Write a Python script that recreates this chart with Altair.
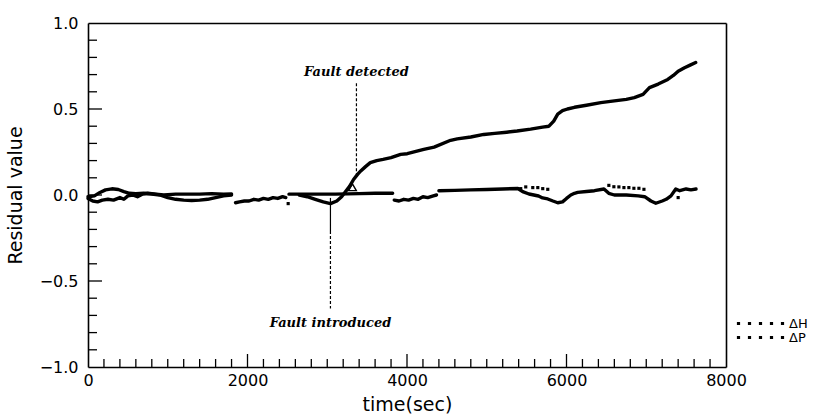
import altair as alt
import pandas as pd

# ---- series data ----
# Delta H : smooth residual, rises after the fault
h1_t = [0, 80, 150, 220, 300, 380, 450, 520, 600, 700, 800, 900, 1000, 1100, 1200, 1300, 1400, 1500, 1600, 1700, 1800]
h1_v = [-0.01, -0.005, 0.015, 0.03, 0.036, 0.032, 0.02, 0.01, 0.008, 0.01, 0.006, 0.0, -0.015, -0.025, -0.03, -0.032, -0.03, -0.025, -0.015, -0.005, 0.0]
h2_t = [2650, 2750, 2850, 2950, 3040, 3120, 3180, 3230, 3280, 3330, 3380, 3420, 3480, 3540, 3620, 3700, 3800, 3920, 4003,
        4210, 4340, 4547, 4630, 4800, 4963, 5100, 5250, 5380, 5550, 5700, 5780, 5840, 5890, 5950, 6012, 6100, 6250,
        6430, 6600, 6750, 6850, 6960, 7040, 7150, 7270, 7340, 7400, 7480, 7550, 7620]
h2_v = [0.0, -0.01, -0.025, -0.04, -0.05, -0.035, -0.01, 0.02, 0.05, 0.09, 0.12, 0.14, 0.165, 0.188, 0.2, 0.207, 0.217, 0.236, 0.24,
        0.265, 0.278, 0.318, 0.326, 0.337, 0.352, 0.358, 0.365, 0.372, 0.383, 0.395, 0.40, 0.43, 0.47, 0.49, 0.50, 0.51, 0.522,
        0.537, 0.547, 0.556, 0.566, 0.585, 0.624, 0.645, 0.672, 0.695, 0.72, 0.74, 0.755, 0.77]

# Delta P : stays near zero
p1_t = [0, 60, 120, 180, 250, 320, 400, 450, 500, 560, 620, 680, 750, 850, 950, 1100, 1250, 1400, 1550, 1700, 1800]
p1_v = [-0.02, -0.035, -0.04, -0.03, -0.025, -0.03, -0.015, -0.025, -0.005, 0.0, -0.01, 0.005, 0.01, 0.005, 0.0, 0.005, 0.005, 0.005, 0.008, 0.005, 0.006]
p2_t = [1850, 1900, 1960, 2020, 2080, 2140, 2200, 2260, 2320, 2380, 2440, 2480]
p2_v = [-0.045, -0.04, -0.035, -0.035, -0.025, -0.03, -0.02, -0.025, -0.015, -0.02, -0.01, -0.015]
p3_t = [2520, 2800, 3100, 3400, 3600, 3820]
p3_v = [0.005, 0.005, 0.005, 0.008, 0.01, 0.01]
p4_t = [3840, 3900, 3960, 4020, 4080, 4140, 4200, 4260, 4330, 4370]
p4_v = [-0.03, -0.035, -0.025, -0.03, -0.02, -0.025, -0.01, -0.015, -0.005, 0.0]
p5_t = [4400, 4600, 4800, 5000, 5200, 5390, 5450, 5530, 5590, 5650, 5700, 5765, 5830, 5890, 5950, 6000, 6054, 6100, 6140,
        6250, 6350, 6470, 6530, 6600, 6750, 6900, 6980, 7059, 7120, 7200, 7250, 7310, 7370, 7420, 7500, 7560, 7624]
p5_v = [0.025, 0.027, 0.03, 0.032, 0.035, 0.038, 0.02, 0.006, 0.0, -0.006, -0.017, -0.023, -0.035, -0.045, -0.04, -0.02, 0.0, 0.01, 0.015,
        0.02, 0.025, 0.035, 0.01, 0.0, 0.0, -0.005, -0.01, -0.035, -0.048, -0.035, -0.025, -0.005, 0.035, 0.025, 0.035, 0.03, 0.035]

# scattered dots where the near-zero traces split
dot_t = [2510, 5426, 5489, 5577, 5640, 5702, 5765, 6531, 6594, 6657, 6720, 6782, 6845, 6908, 6971, 7400]
dot_v = [-0.05, 0.037, 0.047, 0.043, 0.043, 0.037, 0.033, 0.056, 0.048, 0.047, 0.043, 0.043, 0.039, 0.039, 0.033, -0.015]

# annotations
ann_text = ["Fault detected", "Fault introduced"]
ann_t = [3366, 3040]
ann_v = [0.715, -0.745]

# axis ticks
x_minor = [t for t in range(200, 8000, 200) if t % 2000 != 0]
x_major = [2000, 4000, 6000]
y_minor = [round(v / 10, 1) for v in range(-9, 10) if v % 5 != 0]
y_major = [-0.5, 0.0, 0.5]
frame_t = [0, 8000]
frame_v = [-1.0, 1.0]

# ---- build tables ----
rows = []
for name, seg, ts, vs in [("ΔH", "h1", h1_t, h1_v), ("ΔH", "h2", h2_t, h2_v),
                          ("ΔP", "p1", p1_t, p1_v), ("ΔP", "p2", p2_t, p2_v),
                          ("ΔP", "p3", p3_t, p3_v), ("ΔP", "p4", p4_t, p4_v),
                          ("ΔP", "p5", p5_t, p5_v)]:
    for t, v in zip(ts, vs):
        rows.append({"series": name, "seg": seg, "t": t, "v": v})
lines_df = pd.DataFrame(rows)
dots_df = pd.DataFrame({"t": dot_t, "v": dot_v})
ann_df = pd.DataFrame({"text": ann_text, "t": ann_t, "v": ann_v})
frame_df = pd.DataFrame({"t": frame_t, "v": frame_v})

W, H = 638, 344
xs = alt.Scale(domain=[0, 8000], nice=False, zero=False)
ys = alt.Scale(domain=[-1, 1], nice=False, zero=False)

dots_path = ("M-4.6,-0.2h0.4v0.4h-0.4z M-2.4,-0.2h0.4v0.4h-0.4z M-0.2,-0.2h0.4v0.4h-0.4z "
             "M2.0,-0.2h0.4v0.4h-0.4z M4.2,-0.2h0.4v0.4h-0.4z")

common_axis = dict(ticks=False, grid=False, labelFlush=False, labelColor="black",
                   domain=True, domainColor="black", domainWidth=1.6)

lines = alt.Chart(lines_df).mark_line(strokeWidth=3.4, strokeJoin="round", strokeCap="round").encode(
    x=alt.X("t:Q", scale=xs,
            axis=alt.Axis(values=[0, 2000, 4000, 6000, 8000], format="d", labelFontSize=16, labelPadding=5,
                          labelFont="DejaVu Sans",
                          title="time(sec)", titleFontSize=19, titleFont="DejaVu Sans", titleFontWeight="normal",
                          titleColor="black", titlePadding=7, **common_axis)),
    y=alt.Y("v:Q", scale=ys,
            axis=alt.Axis(values=[-1, -0.5, 0, 0.5, 1], format=".1f", labelFontSize=16, labelPadding=10,
                          labelFont="DejaVu Sans",
                          title="Residual  value", titleFontSize=19, titleFont="DejaVu Sans", titleFontWeight="normal",
                          titleColor="black", titlePadding=14, **common_axis)),
    detail="seg:N",
    color=alt.Color("series:N", scale=alt.Scale(domain=["ΔH", "ΔP"], range=["black", "black"]),
                    legend=alt.Legend(title=None, orient="none", legendX=666, legendY=294,
                                      symbolType=dots_path, symbolSize=100, symbolStrokeWidth=1.2,
                                      symbolFillColor="black", symbolStrokeColor="black",
                                      labelFontSize=13, labelFont="DejaVu Sans", labelColor="black",
                                      labelOffset=22, rowPadding=0)),
)

dots = alt.Chart(dots_df).mark_square(size=10, color="black", opacity=1).encode(
    x=alt.X("t:Q", scale=xs), y=alt.Y("v:Q", scale=ys))

xt_minor = alt.Chart(pd.DataFrame({"t": x_minor})).mark_rule(color="black", strokeWidth=1.3).encode(
    x=alt.X("t:Q", scale=xs), y=alt.value(H), y2=alt.value(H - 8))
xt_major = alt.Chart(pd.DataFrame({"t": x_major})).mark_rule(color="black", strokeWidth=1.3).encode(
    x=alt.X("t:Q", scale=xs), y=alt.value(H), y2=alt.value(H - 13))
yt_minor = alt.Chart(pd.DataFrame({"v": y_minor})).mark_rule(color="black", strokeWidth=1.3).encode(
    y=alt.Y("v:Q", scale=ys), x=alt.value(0), x2=alt.value(9))
yt_major = alt.Chart(pd.DataFrame({"v": y_major})).mark_rule(color="black", strokeWidth=1.3).encode(
    y=alt.Y("v:Q", scale=ys), x=alt.value(0), x2=alt.value(14))

det_rule = alt.Chart(pd.DataFrame({"t": [3366], "v1": [0.65], "v2": [0.12]})).mark_rule(
    color="black", strokeWidth=1.2, strokeDash=[3, 2]).encode(
    x=alt.X("t:Q", scale=xs), y=alt.Y("v1:Q", scale=ys), y2="v2:Q")
intro_solid = alt.Chart(pd.DataFrame({"t": [3040], "v1": [-0.017], "v2": [-0.21]})).mark_rule(
    color="black", strokeWidth=1.2).encode(
    x=alt.X("t:Q", scale=xs), y=alt.Y("v1:Q", scale=ys), y2="v2:Q")
intro_dash = alt.Chart(pd.DataFrame({"t": [3040], "v1": [-0.21], "v2": [-0.66]})).mark_rule(
    color="black", strokeWidth=1.2, strokeDash=[3, 2]).encode(
    x=alt.X("t:Q", scale=xs), y=alt.Y("v1:Q", scale=ys), y2="v2:Q")
tri = alt.Chart(pd.DataFrame({"t": [3316], "v": [0.045]})).mark_point(
    shape="triangle-up", filled=False, color="black", size=60, strokeWidth=1.4, opacity=1).encode(
    x=alt.X("t:Q", scale=xs), y=alt.Y("v:Q", scale=ys))

ann = alt.Chart(ann_df).mark_text(font="DejaVu Serif", fontStyle="italic", fontWeight="bold", fontSize=13,
                                  color="black", align="center", baseline="middle").encode(
    x=alt.X("t:Q", scale=xs), y=alt.Y("v:Q", scale=ys), text="text:N")

inner = alt.layer(lines, xt_minor, xt_major, yt_minor, yt_major,
                  dots, det_rule, intro_solid, intro_dash, tri, ann)

# invisible layer, with its own (identical) scales, whose axis domains draw the top and right frame edges
frame_tr = alt.Chart(frame_df).mark_point(opacity=0).encode(
    x=alt.X("t:Q", scale=xs, axis=alt.Axis(orient="top", labels=False, title=None, **common_axis)),
    y=alt.Y("v:Q", scale=ys, axis=alt.Axis(orient="right", labels=False, title=None, **common_axis)),
)

chart = alt.layer(inner, frame_tr).resolve_scale(x="independent", y="independent").properties(
    width=W, height=H,
    padding={"left": 88, "top": 23, "right": 93, "bottom": 47},
    autosize=alt.AutoSizeParams(type="none"),
    background="white",
).configure_view(stroke=None)

chart.save("out.html", embed_options={"renderer": "svg", "actions": False})
